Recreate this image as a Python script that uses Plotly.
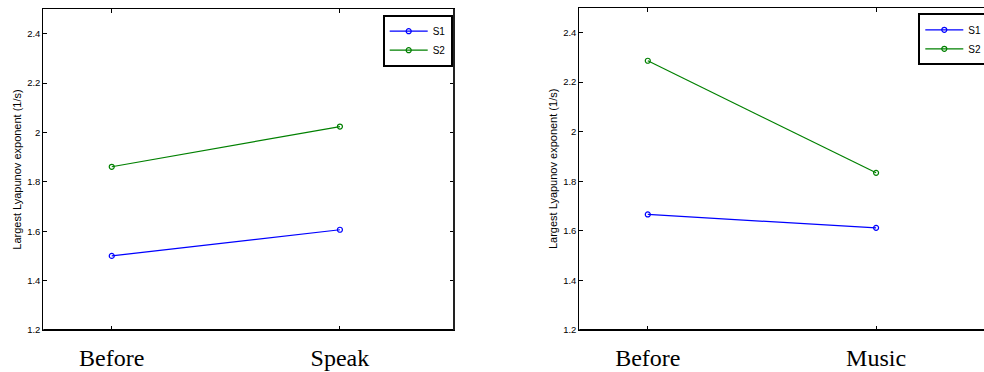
import plotly.graph_objects as go

# ---- data ----
x_pos = [1, 2]
left_labels = ["Before", "Speak"]
right_labels = ["Before", "Music"]
left_s1 = [1.50, 1.606]
left_s2 = [1.861, 2.024]
right_s1 = [1.666, 1.612]
right_s2 = [2.286, 1.834]
series_names = ["S1", "S2"]
series_colors = ["#0000ff", "#008000"]
y_tickvals = [1.2, 1.4, 1.6, 1.8, 2.0, 2.2, 2.4]
y_ticktext = ["1.2", "1.4", "1.6", "1.8", "2", "2.2", "2.4"]
y_title = "Largest Lyapunov exponent (1/s)"

W, H = 984, 372

fig = go.Figure()

def add(xs, ys, name, color, xa, ya, leg):
    fig.add_trace(go.Scatter(
        x=xs, y=ys, name=name, mode="lines+markers",
        line=dict(color=color, width=1.2),
        marker=dict(symbol="circle-open", size=5, color=color, line=dict(width=1.2, color=color)),
        xaxis=xa, yaxis=ya, legend=leg,
    ))

add(x_pos, left_s1, series_names[0], series_colors[0], "x", "y", "legend")
add(x_pos, left_s2, series_names[1], series_colors[1], "x", "y", "legend")
add(x_pos, right_s1, series_names[0], series_colors[0], "x2", "y2", "legend2")
add(x_pos, right_s2, series_names[1], series_colors[1], "x2", "y2", "legend2")

tickfont = dict(family="Liberation Sans, Arial", size=9.5, color="black")
catfont = dict(family="Liberation Serif, Times New Roman", size=24, color="black")
legfont = dict(family="Liberation Sans, Arial", size=10, color="black")

xcommon = dict(tickvals=x_pos, ticks="inside", ticklen=4, tickcolor="black",
               showline=True, linecolor="black", linewidth=1, mirror="ticks",
               showgrid=False, zeroline=False, tickfont=catfont, automargin=False,
               ticklabelstandoff=6)
ycommon = dict(range=[1.2, 2.5], tickvals=y_tickvals, ticktext=y_ticktext,
               ticks="inside", ticklen=4, tickcolor="black",
               showline=True, linecolor="black", linewidth=1,
               showgrid=False, zeroline=False, tickfont=tickfont, automargin=False,
               title=dict(text=y_title, font=dict(family="Liberation Sans, Arial", size=11, color="black"), standoff=3))

fig.update_layout(
    template="none",
    width=W, height=H,
    margin=dict(l=0, r=0, t=0, b=0, autoexpand=False),
    paper_bgcolor="white", plot_bgcolor="white",
    xaxis=dict(domain=[43.3 / W, 454 / W], range=[0.7, 2.5], ticktext=left_labels, anchor="y", **xcommon),
    yaxis=dict(domain=[(H - 330) / H, (H - 9) / H], anchor="x", mirror="ticks", **ycommon),
    xaxis2=dict(domain=[579.3 / W, 1.0], range=[0.7, 0.7 + (W - 579.3) / 228.3], ticktext=right_labels, anchor="y2", **xcommon),
    yaxis2=dict(domain=[(H - 330) / H, (H - 7.7) / H], anchor="x2", mirror=False, **ycommon),
    legend=dict(x=382.7 / W, y=(H - 14.7) / H, xanchor="left", yanchor="top",
                bgcolor="white", bordercolor="black", borderwidth=2,
                font=legfont, itemwidth=38),
    legend2=dict(x=918.3 / W, y=(H - 13.3) / H, xanchor="left", yanchor="top",
                 bgcolor="white", bordercolor="black", borderwidth=2,
                 font=legfont, itemwidth=38),
    shapes=[
        dict(type="line", xref="x domain", yref="y domain", x0=0, x1=1, y0=0, y1=0, line=dict(color="black", width=2)),
        dict(type="line", xref="x domain", yref="y domain", x0=1, x1=1, y0=0, y1=1, line=dict(color="#222", width=2)),
        dict(type="line", xref="x2 domain", yref="y2 domain", x0=0, x1=1, y0=0, y1=0, line=dict(color="black", width=2)),
    ],
)

fig.write_html("out.html")
